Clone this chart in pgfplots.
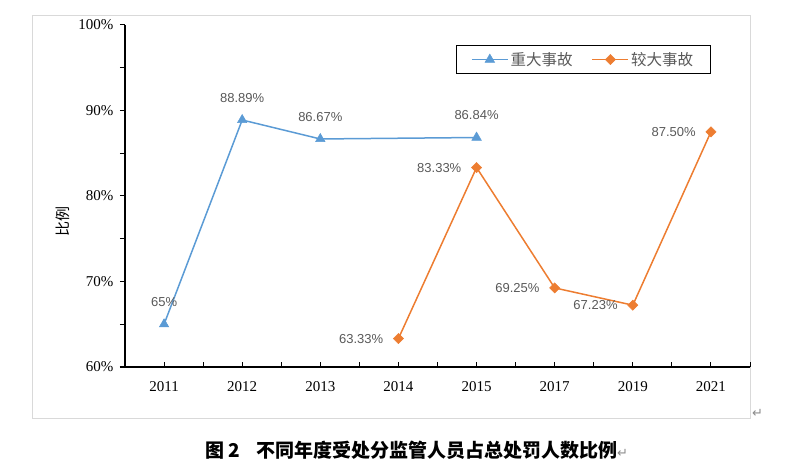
\documentclass[border=0pt]{standalone}
\usepackage{pgfplots}
\pgfplotsset{compat=1.18}
\usepackage{fontspec}
\setmainfont{Liberation Serif}
\newfontfamily\cjk{Noto Sans CJK SC}
\newfontfamily\lab{Liberation Sans}
\newfontfamily\sym{DejaVu Sans}
\definecolor{blueS}{HTML}{5B9BD5}
\definecolor{orangeS}{HTML}{ED7D31}
\definecolor{txt}{HTML}{595959}
\definecolor{framec}{HTML}{D9D9D9}

\begin{document}
\begin{tikzpicture}
\path[use as bounding box] (-125pt,-104pt) rectangle (673pt,367pt);
% outer chart frame
\draw[framec, line width=1pt] (-92pt,-51pt) rectangle (625pt,351pt);
\begin{axis}[
  at={(0,0)}, anchor=south west,
  scale only axis, width=625pt, height=342pt,
  xmin=-0.5, xmax=7.5, ymin=60, ymax=100,
  axis lines*=left,
  axis line style={black, line width=1.3pt},
  x axis line style={shorten <=-5pt},
  xtick={0,...,7},
  xticklabels={2011,2012,2013,2014,2015,2017,2019,2021},
  minor xtick={-0.5,0.5,...,7.5},
  ytick={60,70,...,100},
  yticklabels={60\%,70\%,80\%,90\%,100\%},
  minor ytick={65,75,85,95},
  xtick align=inside, ytick align=outside,
  major tick length=5pt, minor tick length=5pt,
  every tick/.style={black, line width=1pt},
  tick label style={font=\fontsize{15}{15}\selectfont, text=black},
  xticklabel style={yshift=-11pt},
  yticklabel style={xshift=-3pt},
  ylabel={\cjk 比例},
  ylabel style={at={(rel axis cs:-0.099,0.424)}, anchor=center, font=\fontsize{15}{15}\selectfont, text=black},
  legend style={at={(0.733,0.899)}, anchor=center, draw=black,
    font=\cjk\fontsize{15.5}{16}\selectfont, text=txt, legend columns=-1,
    inner xsep=15pt, inner ysep=5pt,
    /tikz/every even column/.append style={column sep=17pt}},
  every axis legend/.append style={line width=1pt},
  legend image code/.code={
    \draw[#1, mark=none, line width=1.6pt] (0pt,0pt) -- (36pt,0pt);
    \draw[#1, only marks] plot coordinates {(18pt,0pt)};},
  clip=false,
]
\addplot[blueS, line width=1.5pt, mark=triangle*, mark size=5.5pt,
  mark options={solid, fill=blueS, draw=blueS, line width=0.5pt},
  nodes near coords, point meta=explicit symbolic,
  every node near coord/.append style={anchor=center, yshift=22pt, inner sep=0pt,
    font=\lab\fontsize{13}{13}\selectfont, text=txt}]
  coordinates {(0,65)[65\%] (1,88.89)[88.89\%] (2,86.67)[86.67\%] (4,86.84)[86.84\%]};
\addplot[orangeS, line width=1.5pt, mark=square*, mark size=3.6pt,
  mark options={solid, fill=orangeS, draw=orangeS, rotate=45, line width=0.5pt},
  nodes near coords, point meta=explicit symbolic,
  every node near coord/.append style={anchor=east, xshift=-15pt, yshift=0pt, inner sep=0pt,
    font=\lab\fontsize{13}{13}\selectfont, text=txt}]
  coordinates {(3,63.33)[63.33\%] (4,83.33)[83.33\%] (5,69.25)[69.25\%] (6,67.23)[67.23\%] (7,87.50)[87.50\%]};
\legend{重大事故,较大事故}
\end{axis}
\node[anchor=west, inner sep=0pt, text=txt!70] at (627pt,-46pt) {\sym\fontsize{13}{13}\selectfont ↵};
\node[anchor=west, inner sep=0pt] at (80pt,-83pt) {\cjk\bfseries\fontsize{19}{20}\selectfont 图 2\hspace{16pt}不同年度受处分监管人员占总处罚人数比例{\mdseries\sym\color{txt!70}\fontsize{13}{13}\selectfont ↵}};
\end{tikzpicture}
\end{document}
